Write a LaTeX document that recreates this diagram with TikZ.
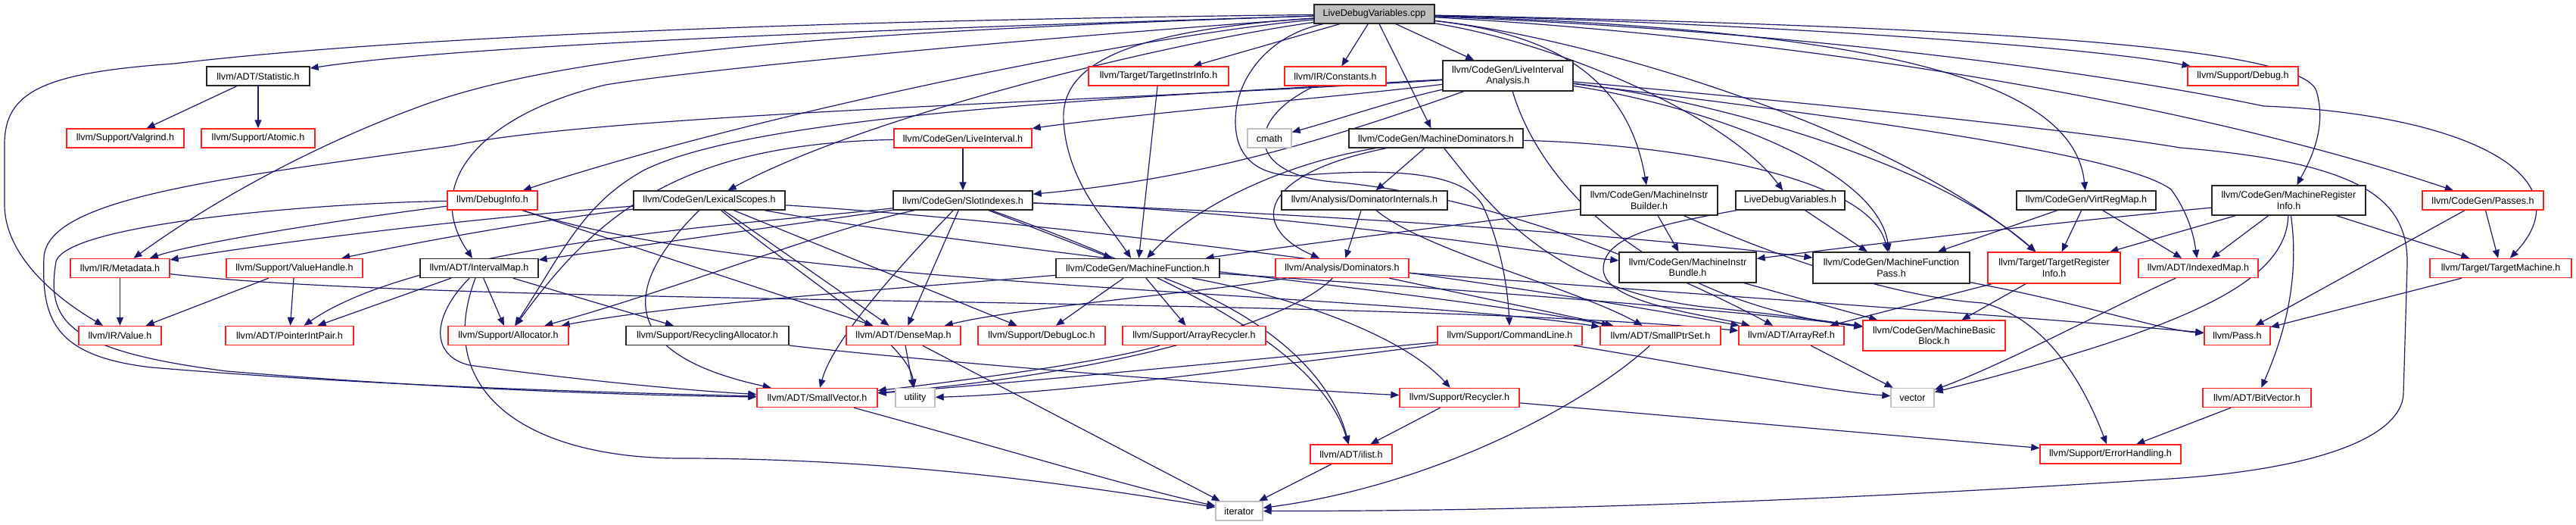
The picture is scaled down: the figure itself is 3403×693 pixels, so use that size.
\documentclass[tikz,border=0pt]{standalone}
\usepackage{fontspec}
\setmainfont{Liberation Sans}
\usetikzlibrary{arrows.meta}
\definecolor{edgec}{HTML}{191970}
\definecolor{redc}{HTML}{FF2020}
\definecolor{sysc}{HTML}{BFBFBF}
\definecolor{rootfill}{HTML}{BFBFBF}
\pgfdeclarelayer{edgelayer}
\pgfsetlayers{edgelayer,main}
\tikzset{
  hdr/.style={draw, line width=1.4pt, inner sep=0pt, minimum height=25pt, fill=white, text=black,
    align=center, font=\fontsize{12.6}{14.5}\selectfont},
  blk/.style={hdr, draw=black!85},
  rb/.style={hdr, draw=redc},
  sb/.style={hdr, draw=sysc},
  e/.style={draw=edgec, line width=1.2pt, -{Triangle[length=11pt,width=9pt]}},
}
\begin{document}
\begin{tikzpicture}[x=1pt,y=-1pt]
\useasboundingbox (0,0) rectangle (3403,693);
% row 0
\node[blk, fill=rootfill, minimum width=159pt] (rt) at (1815.5,18.5) {LiveDebugVariables.cpp};
% row 1
\node[blk, minimum width=136pt] (stat) at (341,100.5) {llvm/ADT/Statistic.h};
\node[rb, minimum width=185pt] (tii) at (1530.5,100.5) {llvm/Target/TargetInstrInfo.h};
\node[rb, minimum width=134pt] (const) at (1764,100.5) {llvm/IR/Constants.h};
\node[blk, minimum width=172pt, minimum height=40pt] (lia) at (1992,100) {llvm/CodeGen/LiveInterval\\Analysis.h};
\node[rb, minimum width=146pt] (debug) at (2963,100.5) {llvm/Support/Debug.h};
% row 2
\node[rb, minimum width=155pt] (valg) at (165.5,182.5) {llvm/Support/Valgrind.h};
\node[rb, minimum width=150pt] (atom) at (341,182.5) {llvm/Support/Atomic.h};
\node[rb, minimum width=182pt] (li) at (1272,182.5) {llvm/CodeGen/LiveInterval.h};
\node[sb, minimum width=58pt] (cmath) at (1677,182.5) {cmath};
\node[blk, minimum width=230pt] (mdom) at (1897,182.5) {llvm/CodeGen/MachineDominators.h};
% row 3
\node[rb, minimum width=119pt] (dinfo) at (650.5,264.5) {llvm/DebugInfo.h};
\node[blk, minimum width=200pt] (lex) at (937,264.5) {llvm/CodeGen/LexicalScopes.h};
\node[blk, minimum width=184pt] (slot) at (1272,264.5) {llvm/CodeGen/SlotIndexes.h};
\node[blk, minimum width=219pt] (domint) at (1802.5,264.5) {llvm/Analysis/DominatorInternals.h};
\node[blk, minimum width=181pt, minimum height=39pt] (mib) at (2178.5,264.5) {llvm/CodeGen/MachineInstr\\Builder.h};
\node[blk, minimum width=144pt] (ldvh) at (2365,264.5) {LiveDebugVariables.h};
\node[blk, minimum width=184pt] (vrm) at (2756,264.5) {llvm/CodeGen/VirtRegMap.h};
\node[blk, minimum width=203pt, minimum height=39pt] (mri) at (3023.5,264.5) {llvm/CodeGen/MachineRegister\\Info.h};
\node[rb, minimum width=160pt] (passes) at (3280,264.5) {llvm/CodeGen/Passes.h};
% row 4
\node[rb, minimum width=131pt] (meta) at (158.5,354) {llvm/IR/Metadata.h};
\node[rb, minimum width=180pt] (vh) at (389,354) {llvm/Support/ValueHandle.h};
\node[blk, minimum width=156pt] (imap) at (633,354) {llvm/ADT/IntervalMap.h};
\node[blk, minimum width=216pt] (mf) at (1503,354) {llvm/CodeGen/MachineFunction.h};
\node[rb, minimum width=176pt] (dom) at (1773,354) {llvm/Analysis/Dominators.h};
\node[blk, minimum width=181pt, minimum height=40pt] (bundle) at (2229.5,353) {llvm/CodeGen/MachineInstr\\Bundle.h};
\node[blk, minimum width=207pt, minimum height=41pt] (mfp) at (2498.5,353.5) {llvm/CodeGen/MachineFunction\\Pass.h};
\node[rb, minimum width=175pt, minimum height=41pt] (tri) at (2713.5,353.5) {llvm/Target/TargetRegister\\Info.h};
\node[rb, minimum width=158pt] (imapx) at (2904,354) {llvm/ADT/IndexedMap.h};
\node[rb, minimum width=187pt] (tm) at (3303.5,354) {llvm/Target/TargetMachine.h};
% row 5
\node[rb, minimum width=109pt] (value) at (158.5,443) {llvm/IR/Value.h};
\node[rb, minimum width=169pt] (pip) at (382.5,443) {llvm/ADT/PointerIntPair.h};
\node[rb, minimum width=159pt] (alloc) at (671.5,443) {llvm/Support/Allocator.h};
\node[blk, minimum width=215pt] (ralloc) at (934.5,443) {llvm/Support/RecyclingAllocator.h};
\node[rb, minimum width=151pt] (dmap) at (1193.5,443) {llvm/ADT/DenseMap.h};
\node[rb, minimum width=168pt] (dloc) at (1376,443) {llvm/Support/DebugLoc.h};
\node[rb, minimum width=189pt] (arec) at (1577.5,443) {llvm/Support/ArrayRecycler.h};
\node[rb, minimum width=191pt] (cl) at (1994.5,443) {llvm/Support/CommandLine.h};
\node[rb, minimum width=159pt] (sps) at (2193.5,443) {llvm/ADT/SmallPtrSet.h};
\node[rb, minimum width=139pt] (aref) at (2366.5,443) {llvm/ADT/ArrayRef.h};
\node[rb, minimum width=188pt, minimum height=40pt] (mbb) at (2555,443) {llvm/CodeGen/MachineBasic\\Block.h};
\node[rb, minimum width=87pt] (pass) at (2955.5,443) {llvm/Pass.h};
% row 6
\node[rb, minimum width=159pt] (svec) at (1079.5,525) {llvm/ADT/SmallVector.h};
\node[sb, minimum width=52pt] (util) at (1209,525) {utility};
\node[rb, minimum width=158pt] (recy) at (1928,525) {llvm/Support/Recycler.h};
\node[sb, minimum width=57pt] (vect) at (2526.5,525) {vector};
\node[rb, minimum width=143pt] (bitv) at (2981.5,525) {llvm/ADT/BitVector.h};
% row 7
\node[rb, minimum width=108pt] (ilist) at (1785,599.5) {llvm/ADT/ilist.h};
\node[rb, minimum width=186pt] (err) at (2788,599.5) {llvm/Support/ErrorHandling.h};
% row 8
\node[sb, minimum width=62pt] (iter) at (1637,674.5) {iterator};

\begin{pgfonlayer}{edgelayer}
% root
\draw[e] (rt) .. controls (1000,28) and (500,52) .. (230,84) .. controls (60,96) and (6,120) .. (6,190) -- (6,270) .. controls (6,330) and (60,385) .. (value);
\draw[e] (rt) .. controls (1200,38) and (620,58) .. (stat);
\draw[e] (rt) .. controls (1100,42) and (760,70) .. (570,135) .. controls (400,195) and (260,280) .. (meta);
\draw[e] (rt) .. controls (1300,55) and (900,95) .. (800,112) .. controls (640,150) and (555,240) .. (imap);
\draw[e] (rt) .. controls (1500,48) and (1000,150) .. (dinfo);
\draw[e] (rt) .. controls (1550,55) and (1150,150) .. (lex);
\draw[e] (rt) .. controls (1500,40) and (1400,80) .. (1405,160) .. controls (1410,240) and (1460,290) .. (mf);
\draw[e] (rt) -- (tii);
\draw[e] (rt) -- (const);
\draw[e] (rt) -- (lia);
\draw[e] (rt) -- (mdom);
\draw[e] (rt) .. controls (1680,45) and (1632,100) .. (1632,160) .. controls (1632,215) and (1670,232) .. (1714,232) .. controls (1830,222) and (1930,225) .. (1958,270) .. controls (1982,320) and (1992,380) .. (cl);
\draw[e] (rt) .. controls (2050,45) and (2150,100) .. (mib);
\draw[e] (rt) .. controls (2050,55) and (2280,150) .. (ldvh);
\draw[e] (rt) .. controls (2100,50) and (2500,170) .. (tri);
\draw[e] (rt) .. controls (2500,40) and (2740,110) .. (vrm);
\draw[e] (rt) .. controls (2300,30) and (2750,60) .. (debug);
\draw[e] (rt) .. controls (2600,35) and (3040,60) .. (3060,120) .. controls (3075,170) and (3050,215) .. (mri);
\draw[e] (rt) .. controls (2300,45) and (2850,120) .. (passes);
\draw[e] (rt) .. controls (2400,42) and (2800,100) .. (2990,140) .. controls (3250,150) and (3420,230) .. (tm);
% statistic
\draw[e] (stat) -- (valg);
\draw[e] (stat) -- (atom);
% live interval analysis
\draw[e] (lia) .. controls (1800,125) and (1500,150) .. (li);
\draw[e] (lia) .. controls (1850,130) and (1760,160) .. (cmath);
\draw[e] (lia) .. controls (1780,175) and (1600,235) .. (slot);
\draw[e] (lia) .. controls (1500,128) and (1000,150) .. (850,225) .. controls (770,270) and (745,330) .. (alloc);
\draw[e] (lia) .. controls (1500,132) and (800,150) .. (600,192) .. controls (300,235) and (62,260) .. (58,340) .. controls (55,420) and (70,470) .. (200,485) .. controls (500,510) and (800,518) .. (svec);
\draw[e] (lia) .. controls (2300,128) and (2700,165) .. (2880,195) .. controls (3120,215) and (3182,262) .. (3180,350) -- (3175,520) .. controls (3172,580) and (3050,622) .. (2850,633) .. controls (2500,655) and (2100,675) .. (iter);
\draw[e] (lia) .. controls (2400,150) and (2800,200) .. (2868,250) .. controls (2890,280) and (2898,310) .. (imapx);
\draw[e] (lia) .. controls (2250,140) and (2480,220) .. (mfp);
\draw[e] (lia) .. controls (2250,130) and (2550,210) .. (tri);
\draw[e] (lia) .. controls (2040,260) and (2200,400) .. (mbb);
% machine dominators
\draw[e] (mdom) -- (domint);
\draw[e] (mdom) .. controls (1660,230) and (1650,300) .. (dom);
\draw[e] (mdom) .. controls (1700,215) and (1580,270) .. (mf);
\draw[e] (mdom) .. controls (1960,260) and (2040,380) .. (2250,405) .. controls (2350,415) and (2420,425) .. (mbb);
\draw[e] (mdom) .. controls (2200,190) and (2470,230) .. (mfp);
% dominator internals
\draw[e] (domint) -- (dom);
\draw[e] (domint) .. controls (1880,330) and (2080,380) .. (sps);
% dominators
\draw[e] (dom) .. controls (1700,430) and (1450,495) .. (svec);
\draw[e] (dom) .. controls (1600,385) and (1350,405) .. (dmap);
\draw[e] (dom) -- (sps);
\draw[e] (dom) .. controls (2200,385) and (2700,420) .. (pass);
% slot indexes
\draw[e] (slot) -- (dmap);
\draw[e] (slot) -- (imap);
\draw[e] (slot) .. controls (1000,295) and (560,320) .. (pip);
\draw[e] (slot) .. controls (1180,360) and (1100,450) .. (svec);
\draw[e] (slot) .. controls (1600,380) and (1750,480) .. (ilist);
\draw[e] (slot) -- (mf);
\draw[e] (slot) .. controls (1800,285) and (2200,315) .. (mfp);
\draw[e] (slot) .. controls (1700,280) and (2000,330) .. (bundle);
\draw[e] (slot) .. controls (1100,300) and (900,380) .. (alloc);
% live interval
\draw[e] (li) -- (slot);
\draw[e] (li) .. controls (900,190) and (790,280) .. (alloc);
% debug info
\draw[e] (dinfo) .. controls (420,268) and (90,295) .. (74,345) .. controls (62,420) and (80,462) .. (300,490) .. controls (600,515) and (850,522) .. (svec);
\draw[e] (dinfo) .. controls (450,290) and (260,320) .. (meta);
\draw[e] (dinfo) -- (dmap);
\draw[e] (dinfo) .. controls (1000,380) and (1800,385) .. (sps);
% lexical scopes
\draw[e] (lex) .. controls (600,290) and (350,322) .. (meta);
\draw[e] (lex) .. controls (700,292) and (540,322) .. (vh);
\draw[e] (lex) .. controls (850,350) and (780,460) .. (svec);
\draw[e] (lex) -- (dmap);
\draw[e] (lex) .. controls (1300,330) and (1900,385) .. (sps);
\draw[e] (lex) .. controls (1500,300) and (2100,392) .. (aref);
\draw[e] (lex) -- (dloc);
\draw[e] (lex) .. controls (1050,360) and (1200,450) .. (util);
% interval map
\draw[e] (imap) -- (pip);
\draw[e] (imap) .. controls (568,420) and (570,470) .. (620,482) .. controls (750,500) and (900,515) .. (svec);
\draw[e] (imap) -- (alloc);
\draw[e] (imap) -- (ralloc);
\draw[e] (imap) .. controls (570,520) and (700,605) .. (900,605) .. controls (1200,605) and (1450,645) .. (iter);
% value handle, metadata
\draw[e] (vh) -- (value);
\draw[e] (vh) -- (pip);
\draw[e] (meta) -- (value);
\draw[e] (meta) .. controls (600,405) and (1800,390) .. (aref);
% recycling allocator
\draw[e] (ralloc) .. controls (1200,475) and (1700,515) .. (recy);
% machine function
\draw[e] (mf) .. controls (1200,380) and (900,400) .. (alloc);
\draw[e] (mf) -- (dloc);
\draw[e] (mf) -- (arec);
\draw[e] (mf) .. controls (1680,420) and (1760,500) .. (ilist);
\draw[e] (mf) .. controls (1700,390) and (1850,440) .. (recy);
\draw[e] (mf) .. controls (1900,380) and (2300,410) .. (mbb);
% machine instr builder
\draw[e] (mib) .. controls (1900,300) and (1700,325) .. (mf);
\draw[e] (mib) -- (bundle);
\draw[e] (mib) .. controls (2350,340) and (2500,392) .. (2620,400) .. controls (2700,420) and (2750,500) .. (err);
% live debug variables header
\draw[e] (ldvh) -- (mfp);
\draw[e] (ldvh) .. controls (2200,295) and (2118,310) .. (2118,355) .. controls (2118,400) and (2250,415) .. (aref);
% virt reg map
\draw[e] (vrm) -- (mfp);
\draw[e] (vrm) -- (tri);
\draw[e] (vrm) -- (imapx);
% machine register info
\draw[e] (mri) .. controls (2700,295) and (2450,325) .. (bundle);
\draw[e] (mri) -- (tri);
\draw[e] (mri) -- (imapx);
\draw[e] (mri) .. controls (3020,370) and (2900,430) .. (vect);
\draw[e] (mri) .. controls (3040,380) and (3010,460) .. (bitv);
\draw[e] (mri) -- (tm);
% passes, target machine
\draw[e] (passes) -- (pass);
\draw[e] (passes) -- (tm);
\draw[e] (tm) -- (pass);
% target register info, bundle, mfp
\draw[e] (tri) -- (mbb);
\draw[e] (tri) -- (aref);
\draw[e] (bundle) -- (mbb);
\draw[e] (mfp) .. controls (2750,400) and (2850,435) .. (pass);
\draw[e] (imapx) .. controls (2800,400) and (2650,480) .. (vect);
\draw[e] (bitv) -- (err);
\draw[e] (aref) -- (vect);
% command line, array recycler
\draw[e] (cl) .. controls (1700,470) and (1350,505) .. (svec);
\draw[e] (cl) .. controls (1700,480) and (1400,520) .. (util);
\draw[e] (cl) .. controls (2200,475) and (2400,515) .. (vect);
\draw[e] (arec) .. controls (1450,480) and (1250,505) .. (svec);
% lower levels
\draw[e] (dmap) -- (util);
\draw[e] (dmap) -- (iter);
\draw[e] (svec) .. controls (1300,585) and (1500,645) .. (iter);
\draw[e] (recy) -- (ilist);
\draw[e] (recy) -- (err);
\draw[e] (sps) .. controls (2100,530) and (1900,640) .. (iter);
\draw[e] (ilist) -- (iter);
\draw[e] (const) .. controls (1640,160) and (1650,230) .. (1760,240) .. controls (2000,260) and (2250,380) .. (aref);
\draw[e] (tii) -- (mf);
\end{pgfonlayer}
\end{tikzpicture}
\end{document}
